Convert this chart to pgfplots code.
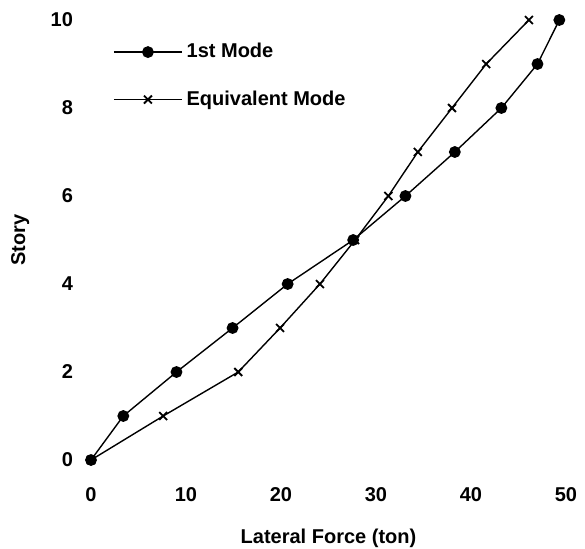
\documentclass[border=0pt]{standalone}
\usepackage{fontspec}
\setmainfont{Liberation Sans}
\usepackage{pgfplots}
\pgfplotsset{compat=1.18}
\begin{document}
\begin{tikzpicture}
\path[use as bounding box] (-45.5pt,-44pt) rectangle (247pt,230pt);
\begin{axis}[
  at={(0,0)}, anchor=south west,
  scale only axis, width=237.5pt, height=220pt,
  xmin=0, xmax=50, ymin=0, ymax=10,
  clip=false,
  axis line style={draw=none},
  tick style={draw=none},
  xtick={0,10,20,30,40,50},
  ytick={0,2,4,6,8,10},
  /pgf/number format/assume math mode=true,
  font=\fontsize{10}{12}\selectfont\bfseries,
  xticklabel style={yshift=-10pt},
  yticklabel style={xshift=-5.5pt},
  xlabel={Lateral Force (ton)},
  ylabel={Story},
  xlabel style={at={(rel axis cs:0.5,-0.178)}, anchor=center},
  ylabel style={at={(rel axis cs:-0.149,0.5)}, anchor=center},
  legend cell align=left,
  legend style={draw=none, fill=none, at={(rel axis cs:0.046,0.957)}, anchor=north west,
    row sep=11pt, inner sep=0pt, font=\fontsize{10}{12}\selectfont\bfseries,
    /tikz/every even column/.append style={column sep=3pt}},
  legend image code/.code={
    \draw[#1, mark repeat=2, mark phase=2] plot coordinates {(0pt,0pt) (17pt,0pt) (34pt,0pt)};
  },
]
\addplot[black, line width=0.7pt, mark=*, mark size=2.6pt, mark options={fill=black}]
coordinates {(0,0) (3.4,1) (9.0,2) (14.9,3) (20.7,4) (27.6,5) (33.1,6) (38.3,7) (43.2,8) (47.0,9) (49.3,10)};
\addlegendentry{1st Mode}
\addplot[black, line width=0.7pt, mark=x, mark size=2.8pt, mark options={line width=0.9pt}]
coordinates {(0,0) (7.6,1) (15.5,2) (19.9,3) (24.1,4) (27.8,5) (31.3,6) (34.4,7) (38.0,8) (41.6,9) (46.1,10)};
\addlegendentry{Equivalent Mode}
\end{axis}
\end{tikzpicture}
\end{document}
